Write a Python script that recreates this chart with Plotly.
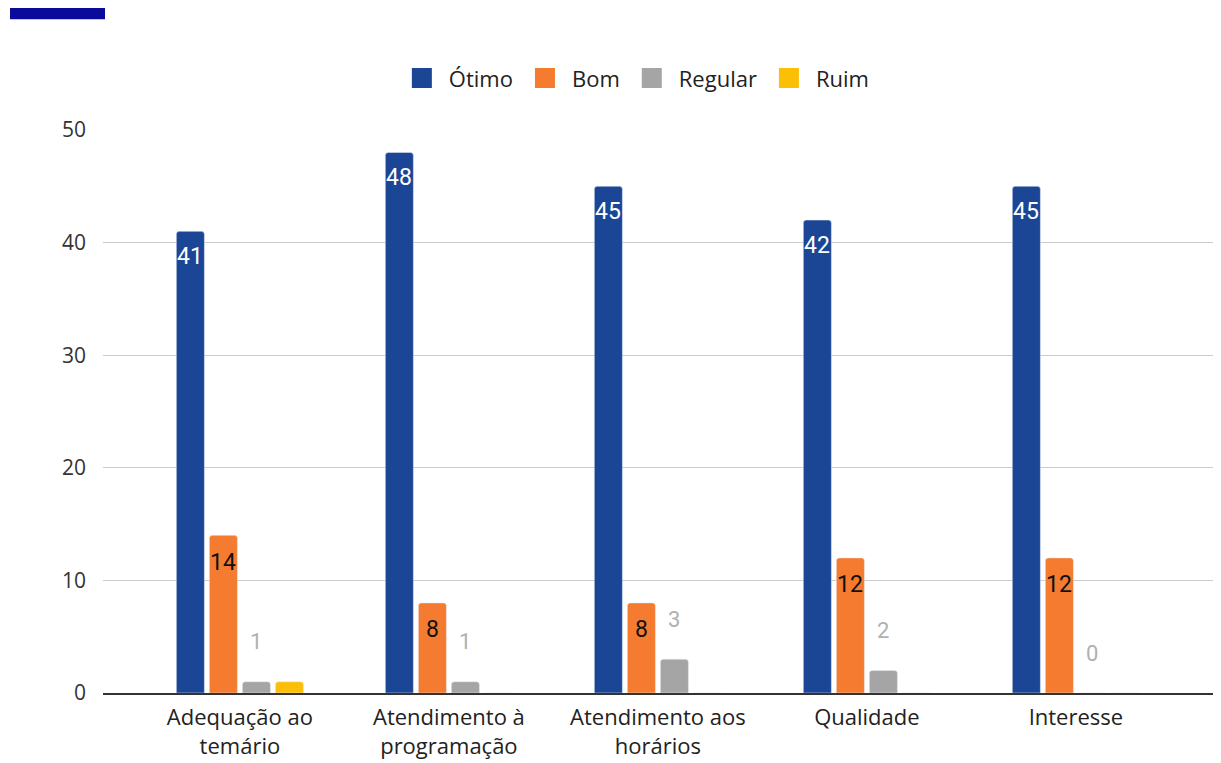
import plotly.graph_objects as go

categories = ["Adequação ao<br>temário", "Atendimento à<br>programação", "Atendimento aos<br>horários", "Qualidade", "Interesse"]
series_names = ["Ótimo", "Bom", "Regular", "Ruim"]
otimo = [41, 48, 45, 42, 45]
bom = [14, 8, 8, 12, 12]
regular = [1, 1, 3, 2, 0]
ruim = [1, 0, 0, 0, 0]
y_ticks = [0, 10, 20, 30, 40, 50]

values = [otimo, bom, regular, ruim]
colors = ["#1b4595", "#f47b2f", "#a5a5a5", "#fbbf06"]

BARGAP = 0.368
GROUPGAP = 0.15
pitch = (1 - BARGAP) / 4

fig = go.Figure()
for name, vals, col in zip(series_names, values, colors):
    fig.add_trace(go.Bar(x=categories, y=vals, name=name, marker=dict(color=col, cornerradius=3),
                         showlegend=False, hoverinfo="skip"))
# legend entries with larger square symbols
for name, col in zip(series_names, colors):
    fig.add_trace(go.Scatter(x=[None], y=[None], mode="markers", name=name,
                             marker=dict(symbol="square", size=22, color=col,
                                         line=dict(color=col, width=4))))

annotations = []
label_styles = [
    dict(color="white", size=23, yshift=-25),
    dict(color="#111111", size=23, yshift=-27),
    dict(color="#b0b0b0", size=22, yshift=40),
]
for k, (vals, st) in enumerate(zip(values[:3], label_styles)):
    for i, v in enumerate(vals):
        annotations.append(dict(x=i + (k - 1.5) * pitch, y=v, xref="x", yref="y", text=str(v),
                                showarrow=False, yanchor="middle", yshift=st["yshift"],
                                font=dict(family="Roboto", size=st["size"], color=st["color"])))

W, H = 1213, 755
fig.update_layout(
    width=W, height=H,
    barmode="group", bargap=BARGAP, bargroupgap=GROUPGAP,
    plot_bgcolor="white", paper_bgcolor="white",
    margin=dict(l=95, r=3, t=122, b=70),
    font=dict(family="Open Sans", color="#222222"),
    legend=dict(orientation="h", x=0.477, xanchor="center", y=1.092, yanchor="middle",
                font=dict(size=22, color="#222222"), itemwidth=44, tracegroupgap=0),
    annotations=annotations,
    shapes=[dict(type="rect", xref="paper", yref="paper", x0=-0.0834, x1=0.0018, y0=1.1965, y1=1.2195,
                 fillcolor="#0b0b9b", line=dict(width=0))],
)
fig.update_xaxes(type="category", range=[-0.655, 4.68], showgrid=False, ticks="",
                 showline=True, linecolor="#333333", linewidth=2, ticklabelstandoff=4,
                 tickfont=dict(size=22, color="#222222"))
fig.update_yaxes(range=[0, 50], tickvals=y_ticks, showgrid=True, gridcolor="#cccccc", gridwidth=1,
                 zeroline=False, showline=False, ticks="", ticklabelstandoff=16,
                 tickfont=dict(size=21, color="#333333"))

fig.write_html("out.html")
